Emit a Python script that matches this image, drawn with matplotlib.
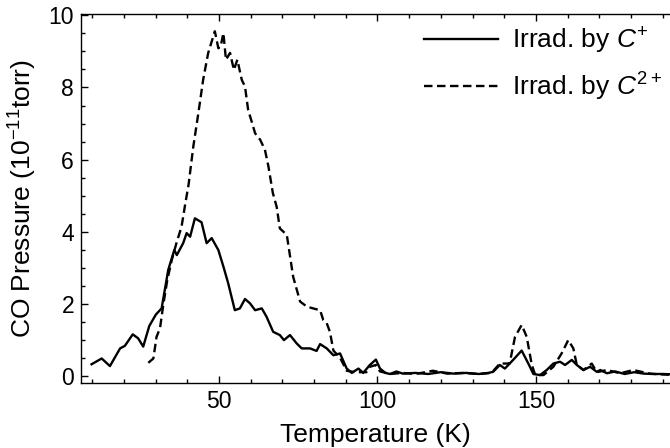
import matplotlib
matplotlib.use("Agg")
import matplotlib.pyplot as plt
from matplotlib.ticker import MultipleLocator

plt.rcParams['font.family'] = ['Liberation Sans', 'DejaVu Sans']
plt.rcParams['mathtext.fontset'] = 'custom'
plt.rcParams['mathtext.rm'] = 'Liberation Sans'
plt.rcParams['mathtext.it'] = 'Liberation Sans:italic'
plt.rcParams['mathtext.bf'] = 'Liberation Sans:bold'

# CO desorption, irradiated by C+
temp_c1 = [9.8, 13.0, 15.6, 18.8, 20.3, 22.8, 24.5, 26.1, 28.0, 30.1, 31.9, 34.0,
           35.9, 36.7, 38.7, 39.8, 40.9, 42.4, 44.5, 46.1, 47.7, 49.8, 51.4, 52.9,
           55.0, 56.6, 58.2, 59.8, 61.4, 63.5, 65.0, 67.1, 69.2, 70.5, 72.4, 74.5,
           76.1, 78.7, 80.8, 81.9, 84.0, 86.1, 88.2, 90.3, 91.9, 94.0, 95.5, 97.6,
           99.5, 100.8, 102.5, 104, 106, 108, 112, 116, 120, 124, 128, 132, 135,
           136.5, 138.6, 140.2, 142.8, 145.5, 147.6, 149.2, 151.3, 153.4, 155.5,
           157.6, 159.2, 161.3, 162.9, 165.0, 167.1, 169.2, 170.3, 172.4, 175, 178,
           181, 184, 187, 190, 193]
pres_c1 = [0.32, 0.48, 0.27, 0.76, 0.83, 1.15, 1.04, 0.81, 1.38, 1.70, 1.87, 2.94,
           3.49, 3.35, 3.68, 3.96, 3.86, 4.37, 4.26, 3.68, 3.82, 3.49, 3.03, 2.57,
           1.82, 1.87, 2.13, 2.01, 1.82, 1.87, 1.64, 1.22, 1.13, 0.99, 1.13, 0.90,
           0.76, 0.76, 0.69, 0.88, 0.76, 0.57, 0.62, 0.20, 0.08, 0.20, 0.08, 0.30,
           0.45, 0.20, 0.08, 0.05, 0.12, 0.06, 0.08, 0.05, 0.10, 0.06, 0.08, 0.05,
           0.08, 0.11, 0.30, 0.20, 0.44, 0.70, 0.34, 0.05, 0.02, 0.16, 0.34, 0.39,
           0.30, 0.44, 0.30, 0.16, 0.25, 0.11, 0.16, 0.07, 0.12, 0.05, 0.10, 0.06,
           0.05, 0.05, 0.04]

# CO desorption, irradiated by C2+
temp_c2 = [27.7, 29.3, 30.3, 31.4, 32.5, 33.7, 35.1, 36.7, 38.2, 39.3, 40.4, 41.9,
           43.5, 45.0, 46.6, 48.7, 49.8, 50.5, 51.4, 52.2, 53.5, 54.7, 55.8, 57.2,
           58.2, 59.2, 60.3, 61.4, 63.0, 64.5, 65.6, 67.0, 68.2, 69.2, 71.4, 73.4,
           75.6, 77.7, 79.7, 81.9, 82.9, 84.0, 85.0, 86.1, 88.2, 90.3, 92.9, 96.5,
           97.6, 99.5, 100.8, 104, 108, 112, 117.5, 122, 127, 132, 136, 138.6,
           141.7, 143.4, 145.5, 147.1, 148.7, 149.8, 152.4, 155.5, 158.1, 160.2,
           161.8, 162.9, 165.0, 167.6, 169.2, 172.4, 176.6, 180.7, 182.8, 186.0,
           189, 192]
pres_c2 = [0.36, 0.48, 1.08, 1.32, 2.01, 2.66, 3.21, 3.72, 4.14, 4.74, 5.30, 6.36,
           7.29, 8.21, 8.96, 9.56, 9.09, 9.13, 9.51, 8.77, 8.96, 8.49, 8.77, 8.21,
           8.03, 7.38, 7.06, 6.73, 6.55, 6.27, 5.81, 5.07, 4.69, 4.09, 3.91, 2.75,
           2.06, 1.92, 1.87, 1.82, 1.55, 1.46, 1.22, 0.70, 0.50, 0.14, 0.10, 0.10,
           0.25, 0.30, 0.12, 0.05, 0.08, 0.05, 0.14, 0.06, 0.08, 0.05, 0.08, 0.34,
           0.34, 1.08, 1.41, 1.08, 0.30, 0.02, 0.02, 0.25, 0.62, 0.99, 0.76, 0.30,
           0.16, 0.34, 0.10, 0.16, 0.07, 0.16, 0.12, 0.06, 0.04, 0.03]

fig = plt.figure(figsize=(6.7, 4.48), dpi=100)
ax = fig.add_axes([0.1209, 0.1451, 0.8791, 0.8237])

ax.plot(temp_c1, pres_c1, color='black', lw=1.7, label='Irrad. by $C^{+}$')
ax.plot(temp_c2, pres_c2, color='black', lw=1.7, dashes=(3.6, 1.9),
        label='Irrad. by $C^{2+}$')

ax.set_xlim(6.47, 192.3)
ax.set_ylim(-0.2, 10.04)

ax.xaxis.set_major_locator(MultipleLocator(50))
ax.xaxis.set_minor_locator(MultipleLocator(10))
ax.yaxis.set_major_locator(MultipleLocator(2))
ax.yaxis.set_minor_locator(MultipleLocator(0.5))

ax.spines['right'].set_visible(False)
for s in ['left', 'bottom', 'top']:
    ax.spines[s].set_linewidth(1.0)

ax.tick_params(which='both', direction='in', top=True, right=False,
               labelsize=16.5, width=1.0)
ax.tick_params(which='major', length=5, pad=5)
ax.tick_params(which='minor', length=3)

ax.set_xlabel('Temperature (K)', fontsize=19, labelpad=7.5)
ax.set_ylabel('CO Pressure (10$^{-11}$torr)', fontsize=19, labelpad=7)

ax.legend(loc='upper right', bbox_to_anchor=(1.0, 0.99), frameon=False,
          fontsize=19, handlelength=2.8, labelspacing=0.55, borderaxespad=0.0,
          borderpad=0.3, handletextpad=0.55)

fig.savefig('out.png', dpi=100)
